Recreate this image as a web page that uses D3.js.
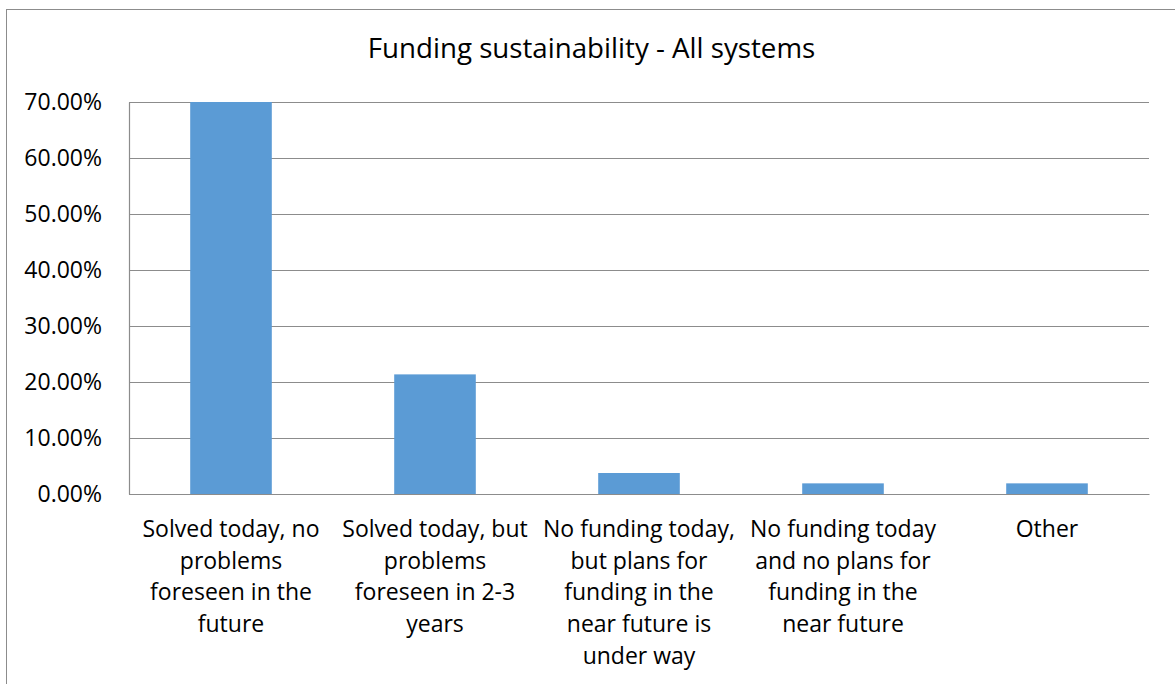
<!DOCTYPE html>
<html>
<head>
<meta charset="utf-8">
<script src="https://cdn.jsdelivr.net/npm/d3@7"></script>
<style>
  html, body { margin: 0; padding: 0; background: #fff; }
  svg { display: block; }
  text { font-family: "Open Sans", "Noto Sans", sans-serif; fill: #000; }
</style>
</head>
<body>
<svg id="chart" width="1175" height="684"></svg>
<script>
const title = "Funding sustainability - All systems";
const categories = [
  "Solved today, no problems foreseen in the future",
  "Solved today, but problems foreseen in 2-3 years",
  "No funding today, but plans for funding in the near future is under way",
  "No funding today and no plans for funding in the near future",
  "Other"
];
const categoryLines = [
  ["Solved today, no", "problems", "foreseen in the", "future"],
  ["Solved today, but", "problems", "foreseen in 2-3", "years"],
  ["No funding today,", "but plans for", "funding in the", "near future is", "under way"],
  ["No funding today", "and no plans for", "funding in the", "near future"],
  ["Other"]
];
const values = [0.70, 0.2136, 0.0375, 0.019, 0.019];
const yTicks = [0, 0.1, 0.2, 0.3, 0.4, 0.5, 0.6, 0.7];

const svg = d3.select("#chart");
const W = 1175, H = 684;
const margin = {left: 129, right: 26, top: 102, bottom: 190};
const plotW = W - margin.left - margin.right;
const plotH = H - margin.top - margin.bottom;

// chart border (extends past the right/bottom edges)
svg.append("rect")
  .attr("x", 6.5).attr("y", 9.5)
  .attr("width", 1300).attr("height", 800)
  .attr("fill", "none").attr("stroke", "#8c8c8c").attr("stroke-width", 1);

svg.append("text")
  .attr("x", 591.5).attr("y", 58)
  .attr("text-anchor", "middle")
  .attr("font-size", 27.7)
  .text(title);

const x = d3.scaleBand()
  .domain(categories)
  .range([margin.left, margin.left + plotW])
  .paddingInner(0.6)
  .paddingOuter(0.3);

const y = d3.scaleLinear()
  .domain([0, 0.7])
  .range([margin.top + plotH, margin.top]);

// gridlines
const grid = svg.append("g")
  .attr("transform", `translate(${margin.left},0)`)
  .call(d3.axisLeft(y).tickValues(yTicks).tickSize(-plotW).tickFormat(""));
grid.select(".domain").remove();
grid.selectAll(".tick line").attr("stroke", "#8c8c8c").attr("stroke-width", 1.2);

// y labels
const yAxis = svg.append("g")
  .attr("transform", `translate(${margin.left},0)`)
  .call(d3.axisLeft(y).tickValues(yTicks).tickSize(0).tickPadding(27)
    .tickFormat(d => (d * 100).toFixed(2) + "%"));
yAxis.select(".domain").attr("stroke", "#8c8c8c").attr("stroke-width", 1.2);
yAxis.selectAll(".tick text")
  .attr("font-size", 23)
  .attr("font-family", "'Open Sans', sans-serif")
  .attr("fill", "#000");

// bars
svg.append("g").selectAll("rect")
  .data(values)
  .join("rect")
  .attr("x", (d, i) => x(categories[i]))
  .attr("width", x.bandwidth())
  .attr("y", d => y(d))
  .attr("height", d => y(0) - y(d))
  .attr("fill", "#5b9bd5");

// x axis
const xAxis = svg.append("g")
  .attr("transform", `translate(0,${y(0)})`)
  .call(d3.axisBottom(x).tickSize(0).tickFormat(""));
xAxis.select(".domain").attr("stroke", "#8c8c8c").attr("stroke-width", 1.2);

// category labels (wrapped lines)
const lab = svg.append("g");
categories.forEach((c, i) => {
  const t = lab.append("text")
    .attr("text-anchor", "middle")
    .attr("font-size", 23)
    .attr("x", x(c) + x.bandwidth() / 2)
    .attr("y", 537);
  categoryLines[i].forEach((ln, j) => {
    t.append("tspan")
      .attr("x", x(c) + x.bandwidth() / 2)
      .attr("y", 537 + j * 31.7)
      .text(ln);
  });
});
</script>
</body>
</html>
